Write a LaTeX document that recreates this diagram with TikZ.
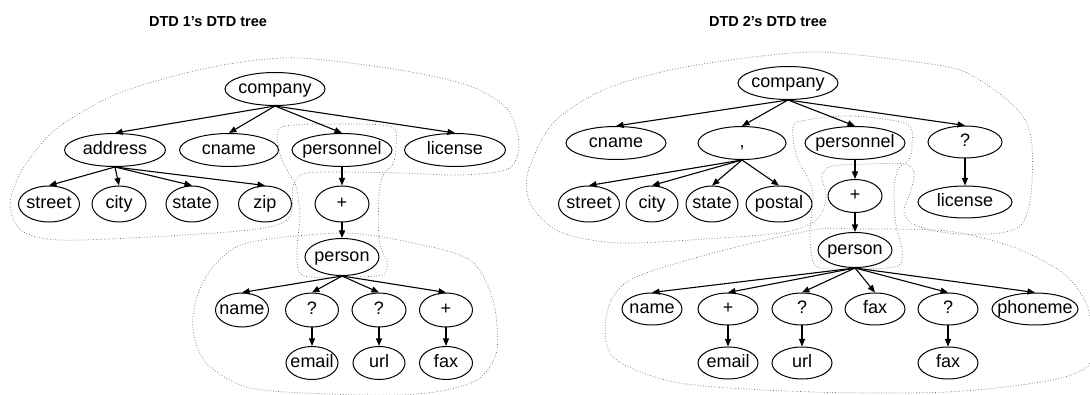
\documentclass[tikz,border=0pt]{standalone}
\usepackage{fontspec}
\setmainfont{Liberation Sans}
\usetikzlibrary{shapes.geometric,arrows.meta}
\tikzset{
  nd/.style={ellipse,draw,line width=1pt,inner sep=0pt},
  lbl/.style={inner sep=0pt,font=\fontsize{18}{18}\selectfont,text height=13pt,text depth=4pt},
  ed/.style={line width=1.1pt,-{Triangle[length=7.5pt,width=6pt]}},
  blob/.style={draw=black!60,dotted,line width=0.7pt},
  ttl/.style={font=\bfseries\fontsize{14.5}{16}\selectfont}
}
\newcommand\mknd[6]{\node[nd,minimum width=#4pt,minimum height=#5pt,label={[lbl]center:{#6}}] (#1) at (#2,#3) {};}
\begin{document}
\begin{tikzpicture}[x=1pt,y=-1pt]
\useasboundingbox (0,0) rectangle (1090,395);
% titles
\node[ttl] (t1) at (208,22) {DTD 1’s DTD tree};
\node[ttl] (t2) at (768,22) {DTD 2’s DTD tree};
% ---------- blobs, left tree
\draw[blob] plot[smooth cycle] coordinates {(300,58) (400,70) (470,86) (508,110) (519,145) (508,169) (460,175) (400,173) (330,172) (303,174) (293,186) (292,210) (284,222) (250,230) (150,237) (60,240) (22,231) (10,205) (22,170) (55,130) (110,97) (170,77) (235,63)};
\draw[blob] plot[smooth cycle] coordinates {(282,127) (340,124) (392,127) (396,148) (393,164) (383,175) (379,195) (379,240) (387,262) (382,275) (340,277) (302,275) (297,250) (300,215) (296,186) (287,170) (279,150)};
\draw[blob] plot[smooth cycle] coordinates {(343,233) (413,243) (470,260) (493,300) (497,350) (480,378) (447,390) (400,395) (330,394) (250,388) (207,364) (193,330) (197,297) (213,267) (247,243)};
% ---------- blobs, right tree
\draw[blob] plot[smooth cycle] coordinates {(820,52) (900,60) (960,70) (1000,94) (1024,118) (1032,145) (1031,195) (1022,224) (1000,233) (960,234) (930,230) (910,222) (904,210) (911,190) (914,173) (905,164) (870,164) (832,166) (822,176) (826,195) (822,213) (810,224) (780,233) (720,238) (620,243) (560,232) (531,205) (528,172) (553,123) (603,90) (670,70) (753,57)};
\draw[blob] plot[smooth cycle] coordinates {(798,122) (850,116) (907,124) (912,145) (909,160) (898,169) (894,190) (896,225) (902,250) (898,266) (860,269) (820,268) (812,258) (810,233) (813,195) (807,176) (798,160) (793,138)};
\draw[blob] plot[smooth cycle] coordinates {(855,229) (947,231) (1013,247) (1063,273) (1086,303) (1092,335) (1088,366) (1047,381) (947,392) (813,392) (680,383) (613,357) (607,313) (630,280) (713,253) (813,230)};
% ---------- left tree nodes
\mknd{c1}{275}{89}{100}{33}{company}
\mknd{ad1}{115}{150}{101}{33}{address}
\mknd{cn1}{229}{150}{99}{33}{cname}
\mknd{pe1}{342}{150}{100}{33}{personnel}
\mknd{li1}{455}{150}{101}{33}{license}
\mknd{st1}{49}{204}{61}{36}{street}
\mknd{ci1}{119}{204}{54}{36}{city}
\mknd{sa1}{192}{204}{52}{36}{state}
\mknd{zi1}{265}{204}{53}{36}{zip}
\mknd{pla}{342}{204}{54}{36}{+}
\mknd{ps1}{342}{257}{74}{37}{person}
\mknd{na1}{242}{310}{53}{34}{name}
\mknd{qa}{312}{310}{53}{34}{?}
\mknd{qb}{379}{310}{54}{34}{?}
\mknd{plb}{446}{310}{53}{34}{+}
\mknd{em1}{312}{363}{52}{33}{email}
\mknd{ur1}{379}{363}{52}{33}{url}
\mknd{fa1}{446}{363}{53}{33}{fax}
% left tree edges
\foreach \a/\b in {c1/ad1,c1/cn1,c1/pe1,c1/li1,ad1/st1,ad1/ci1,ad1/sa1,ad1/zi1,pe1/pla,pla/ps1,ps1/na1,ps1/qa,ps1/qb,ps1/plb,qa/em1,qb/ur1,plb/fa1}
  \draw[ed] (\a.south) -- (\b.north);
% ---------- right tree nodes
\mknd{c2}{788}{83}{100}{33}{company}
\mknd{cn2}{616}{143}{100}{33}{cname}
\mknd{cm2}{742}{143}{88}{33}{,}
\mknd{pe2}{855}{143}{100}{33}{personnel}
\mknd{q2}{965}{142}{74}{32}{?}
\mknd{li2}{965}{202}{94}{32}{license}
\mknd{st2}{589}{204}{61}{36}{street}
\mknd{ci2}{652}{204}{52}{36}{city}
\mknd{sa2}{712}{204}{52}{36}{state}
\mknd{po2}{779}{204}{66}{36}{postal}
\mknd{pl2}{855}{196}{54}{33}{+}
\mknd{ps2}{855}{250}{74}{35}{person}
\mknd{na2}{652}{309}{60}{32}{name}
\mknd{pl2b}{728}{309}{60}{32}{+}
\mknd{q2a}{802}{309}{60}{32}{?}
\mknd{fx2}{875}{309}{60}{32}{fax}
\mknd{q2b}{948}{309}{60}{32}{?}
\mknd{ph2}{1035}{309}{86}{32}{phoneme}
\mknd{em2}{728}{363}{60}{32}{email}
\mknd{ur2}{802}{363}{60}{32}{url}
\mknd{fb2}{948}{363}{60}{32}{fax}
% right tree edges
\foreach \a/\b in {c2/cn2,c2/cm2,c2/pe2,c2/q2,q2/li2,cm2/st2,cm2/ci2,cm2/sa2,cm2/po2,pe2/pl2,pl2/ps2,ps2/na2,ps2/pl2b,ps2/q2a,ps2/fx2,ps2/q2b,ps2/ph2,pl2b/em2,q2a/ur2,q2b/fb2}
  \draw[ed] (\a.south) -- (\b.north);
\end{tikzpicture}
\end{document}
